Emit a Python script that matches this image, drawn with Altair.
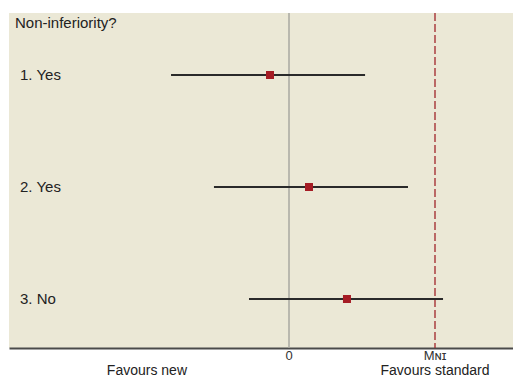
import altair as alt
import pandas as pd

rows = ["1. Yes", "2. Yes", "3. No"]
row_pos = [1, 2, 3]
est = [-0.13, 0.137, 0.397]
lo = [-0.808, -0.514, -0.274]
hi = [0.521, 0.815, 1.055]
mni = 1.0
tick_vals = [0.0, mni]
tick_text = ["0", "M\u0274\u026a"]
side_vals = [-0.973, mni]
side_text = ["Favours new", "Favours standard"]

df = pd.DataFrame({"row": rows, "pos": row_pos, "est": est, "lo": lo, "hi": hi})

FONT = "Liberation Sans"
xsc = alt.Scale(domain=[-280 / 146, 224 / 146], nice=False, zero=False)
ysc = alt.Scale(domain=[1 - 62 / 112, 1 + 273 / 112], reverse=True, nice=False, zero=False)

xaxis = alt.Axis(labels=False, ticks=False, grid=False, title=None,
                 domainColor="#4a4a4a", domainWidth=2)

zero_line = alt.Chart(pd.DataFrame({"x": [0.0]})).mark_rule(color="#a8a8a0", strokeWidth=1.5).encode(
    x=alt.X("x:Q", scale=xsc, axis=xaxis))
mni_line = alt.Chart(pd.DataFrame({"x": [mni]})).mark_rule(
    color="#a0252a", strokeWidth=1.3, strokeDash=[8, 3]).encode(x=alt.X("x:Q", scale=xsc))

ci = alt.Chart(df).mark_rule(color="#2a2a2a", strokeWidth=2.2).encode(
    x=alt.X("lo:Q", scale=xsc), x2="hi:Q",
    y=alt.Y("pos:Q", scale=ysc, axis=None))
pts = alt.Chart(df).mark_square(size=64, color="#a51c24", opacity=1).encode(
    x=alt.X("est:Q", scale=xsc), y=alt.Y("pos:Q", scale=ysc))

labels = alt.Chart(df).mark_text(align="left", baseline="middle", font=FONT,
                                 fontSize=15, color="#222").encode(
    x=alt.value(11), y=alt.Y("pos:Q", scale=ysc), text="row:N")

title = alt.Chart(pd.DataFrame({"t": ["Non-inferiority?"]})).mark_text(
    align="left", baseline="middle", font=FONT, fontSize=15, color="#222").encode(
    x=alt.value(6), y=alt.value(10), text="t:N")

ticks = alt.Chart(pd.DataFrame({"x": tick_vals, "t": tick_text})).mark_text(
    align="center", baseline="alphabetic", font=FONT, fontSize=13, color="#333").encode(
    x=alt.X("x:Q", scale=xsc), y=alt.value(347), text="t:N")

fav = alt.Chart(pd.DataFrame({"x": side_vals, "t": side_text})).mark_text(
    align="center", baseline="alphabetic", font=FONT, fontSize=14, color="#222").encode(
    x=alt.X("x:Q", scale=xsc), y=alt.value(362), text="t:N")

chart = alt.layer(zero_line, mni_line, ci, pts, labels, title, ticks, fav).properties(
    width=504, height=335,
    background="white",
    autosize=alt.AutoSizeParams(type="none"),
    padding={"left": 1, "top": 5, "right": 0, "bottom": 31},
).configure_view(fill="#ebe8d6", strokeWidth=0)

chart.save("out.html", embed_options={"renderer": "svg", "actions": False})
